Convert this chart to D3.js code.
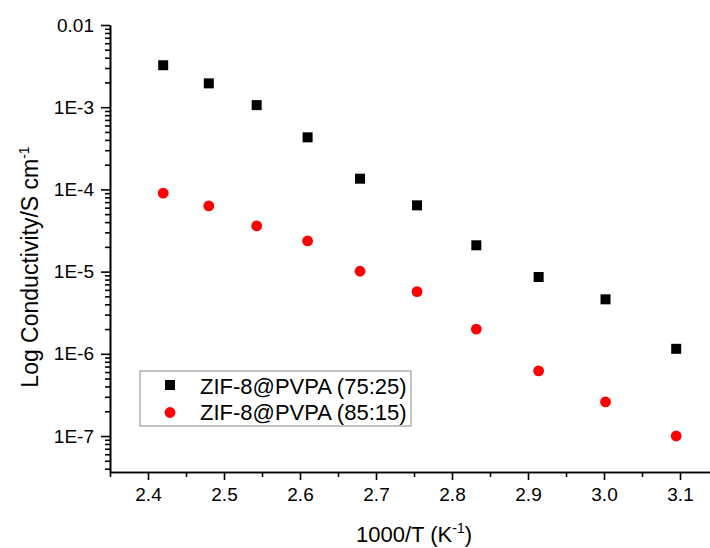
<!DOCTYPE html>
<html>
<head>
<meta charset="utf-8">
<script src="https://cdn.jsdelivr.net/npm/d3@7"></script>
<style>
  html, body { margin: 0; padding: 0; background: #fff; }
  svg { display: block; font-family: "Liberation Sans", Arial, sans-serif; }
  .axis path, .axis line { stroke: #000; stroke-width: 1.6; }
  .axis text { fill: #000; font-size: 19px; }
</style>
</head>
<body>
<div id="root"></div>
<script>
// ——— données
const invT = [2.420, 2.480, 2.543, 2.610, 2.679, 2.754, 2.832, 2.914, 3.002, 3.095];
const cond7525 = [3.24e-3, 1.95e-3, 1.06e-3, 4.3e-4, 1.35e-4, 6.4e-5, 2.09e-5, 8.6e-6, 4.6e-6, 1.15e-6];
const cond8515 = [9.0e-5, 6.3e-5, 3.6e-5, 2.36e-5, 1.01e-5, 5.7e-6, 2.0e-6, 6.2e-7, 2.6e-7, 1.0e-7];
const seriesNames = ["ZIF-8@PVPA (75:25)", "ZIF-8@PVPA (85:15)"];

const xTicks = [2.4, 2.5, 2.6, 2.7, 2.8, 2.9, 3.0, 3.1];
const yTicks = [1e-7, 1e-6, 1e-5, 1e-4, 1e-3, 1e-2];
const yTickLabels = ["1E-7", "1E-6", "1E-5", "1E-4", "1E-3", "0.01"];

const width = 710, height = 548;

const svg = d3.select("#root").append("svg")
  .attr("width", width).attr("height", height)
  .style("overflow", "hidden");

const x = d3.scaleLinear().domain([2.35, 3.15]).range([110, 718]);
const y = d3.scaleLog().domain([3.65e-8, 1e-2]).range([472, 25]);

// ——— ticks mineurs
const xMinor = d3.range(2.35, 3.16, 0.05).map(v => +v.toFixed(2))
  .filter(v => !xTicks.some(t => Math.abs(t - v) < 1e-6));
const yMinor = [];
for (let e = -8; e <= -3; e++) {
  for (let m = 2; m <= 9; m++) {
    const v = m * Math.pow(10, e);
    if (v >= 3.65e-8 && v <= 1e-2) yMinor.push(v);
  }
}

// axe x
svg.append("g").attr("class", "axis")
  .attr("transform", `translate(0,472)`)
  .call(d3.axisBottom(x).tickValues(xMinor).tickSize(5).tickFormat("").tickSizeOuter(0));
svg.append("g").attr("class", "axis")
  .attr("transform", `translate(0,472)`)
  .call(d3.axisBottom(x).tickValues(xTicks).tickSize(8).tickSizeOuter(0)
    .tickPadding(8).tickFormat(d3.format(".1f")));

// axe y
svg.append("g").attr("class", "axis")
  .attr("transform", `translate(110,0)`)
  .call(d3.axisLeft(y).tickValues(yMinor).tickSize(5).tickFormat("").tickSizeOuter(0));
svg.append("g").attr("class", "axis")
  .attr("transform", `translate(110,0)`)
  .call(d3.axisLeft(y).tickValues(yTicks).tickSize(9).tickSizeOuter(0)
    .tickPadding(7).tickFormat((d, i) => yTickLabels[i]));

// ——— points
const pts1 = invT.map((v, i) => ({ x: v, y: cond7525[i] }));
const pts2 = invT.map((v, i) => ({ x: v, y: cond8515[i] }));
const sq = 10;

svg.append("g").selectAll("rect").data(pts1).enter().append("rect")
  .attr("x", d => x(d.x) - sq / 2)
  .attr("y", d => y(d.y) - sq / 2)
  .attr("width", sq).attr("height", sq)
  .attr("fill", "#000");

svg.append("g").selectAll("circle").data(pts2).enter().append("circle")
  .attr("cx", d => x(d.x))
  .attr("cy", d => y(d.y))
  .attr("r", 5.4)
  .attr("fill", "#f00");

// ——— légende
const lg = svg.append("g");
lg.append("rect").attr("x", 140).attr("y", 371).attr("width", 271).attr("height", 55)
  .attr("fill", "#fff").attr("stroke", "#888").attr("stroke-width", 1);
lg.append("rect").attr("x", 170 - sq / 2).attr("y", 385 - sq / 2)
  .attr("width", sq).attr("height", sq).attr("fill", "#000");
lg.append("circle").attr("cx", 170).attr("cy", 412.5).attr("r", 5.4).attr("fill", "#f00");
lg.selectAll("text").data(seriesNames).enter().append("text")
  .attr("x", 200).attr("y", (d, i) => 393.5 + i * 26)
  .attr("font-size", "22px").attr("fill", "#000")
  .text(d => d);

// ——— titres
const xt = svg.append("text").attr("x", 414).attr("y", 542)
  .attr("text-anchor", "middle").attr("font-size", "22px");
xt.append("tspan").text("1000/T (K");
xt.append("tspan").attr("font-size", "14px").attr("dy", -9).text("-1");
xt.append("tspan").attr("dy", 9).text(")");

const yt = svg.append("text").attr("transform", "translate(38,267) rotate(-90)")
  .attr("text-anchor", "middle").attr("font-size", "23px");
yt.append("tspan").text("Log Conductivity/S cm");
yt.append("tspan").attr("font-size", "14px").attr("dy", -9).text("-1");
</script>
</body>
</html>
